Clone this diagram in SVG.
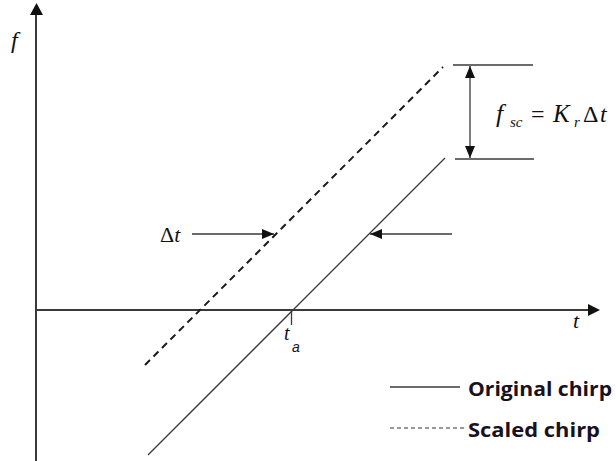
<svg xmlns="http://www.w3.org/2000/svg" width="616" height="461" viewBox="0 0 616 461">
<style>
.ax{stroke:#3a3a3a;stroke-width:2;fill:none}
.ln{stroke:#3a3a3a;stroke-width:1.3;fill:none}
.dash{stroke:#1a1a1a;stroke-width:2;stroke-dasharray:7,5;fill:none}
.math{font-family:'Liberation Serif',serif;font-style:italic;fill:#111}
.mathu{font-family:'Liberation Serif',serif;fill:#111}
.leg{font-family:'Open Sans','Liberation Sans',sans-serif;font-weight:bold;font-size:19px;fill:#1a1020}
</style>
<defs>
<marker id="ah" markerWidth="12" markerHeight="10" refX="12" refY="5" orient="auto" markerUnits="userSpaceOnUse">
<path d="M0,0 L12,5 L0,10 Z" fill="#111"/>
</marker>
<marker id="ahs" markerWidth="12" markerHeight="10" refX="0" refY="5" orient="auto" markerUnits="userSpaceOnUse">
<path d="M12,0 L0,5 L12,10 Z" fill="#111"/>
</marker>
</defs>
<g id="axes">
<line class="ax" x1="36" y1="461" x2="36" y2="14"/>
<path d="M30,15 L36.5,3 L43,15 Z" fill="#111"/>
<line class="ax" x1="37" y1="310" x2="589" y2="310"/>
<path d="M588,304 L600,310 L588,316 Z" fill="#111"/>
<text class="math" x="11" y="48" font-size="24">f</text>
<text class="math" x="573" y="328" font-size="22">t</text>
</g>
<g id="original-chirp">
<line class="ln" x1="148" y1="455" x2="445" y2="158"/>
</g>
<g id="scaled-chirp">
<line class="dash" x1="145" y1="365" x2="443" y2="67"/>
</g>
<g id="ta">
<line class="ln" x1="291.5" y1="310" x2="291.5" y2="325"/>
<text class="math" x="284" y="340" font-size="20">t</text>
<text x="292" y="352" font-size="14" font-style="italic" font-family="'Liberation Sans',sans-serif" fill="#111">a</text>
</g>
<g id="fsc-marker">
<line class="ln" x1="453" y1="65" x2="533" y2="65"/>
<line class="ln" x1="455" y1="159" x2="534" y2="159"/>
<line class="ln" x1="470" y1="66" x2="470" y2="158" marker-start="url(#ahs)" marker-end="url(#ah)"/>
<text class="math" x="496" y="122" font-size="26">f</text>
<text class="math" x="510" y="127" font-size="15">sc</text>
<text class="mathu" x="531" y="122" font-size="24">=</text>
<text class="math" x="553" y="122" font-size="25">K</text>
<text class="math" x="574" y="127" font-size="15">r</text>
<text class="mathu" x="583" y="122" font-size="24">Δ</text>
<text class="math" x="600" y="122" font-size="24">t</text>
</g>
<g id="delta-t">
<line class="ln" x1="192" y1="234" x2="274" y2="234" marker-end="url(#ah)"/>
<line class="ln" x1="452" y1="234" x2="370" y2="234" marker-end="url(#ah)"/>
<text class="mathu" x="160" y="242" font-size="22">Δ<tspan class="math">t</tspan></text>
</g>
<g id="legend">
<line class="ln" x1="390" y1="387" x2="460" y2="387"/>
<text class="leg" x="468" y="396" textLength="144" lengthAdjust="spacingAndGlyphs">Original chirp</text>
<line x1="390" y1="428" x2="465" y2="428" stroke="#333" stroke-width="1.2" stroke-dasharray="4,3"/>
<text class="leg" x="468" y="437" textLength="132" lengthAdjust="spacingAndGlyphs">Scaled chirp</text>
</g>
</svg>
